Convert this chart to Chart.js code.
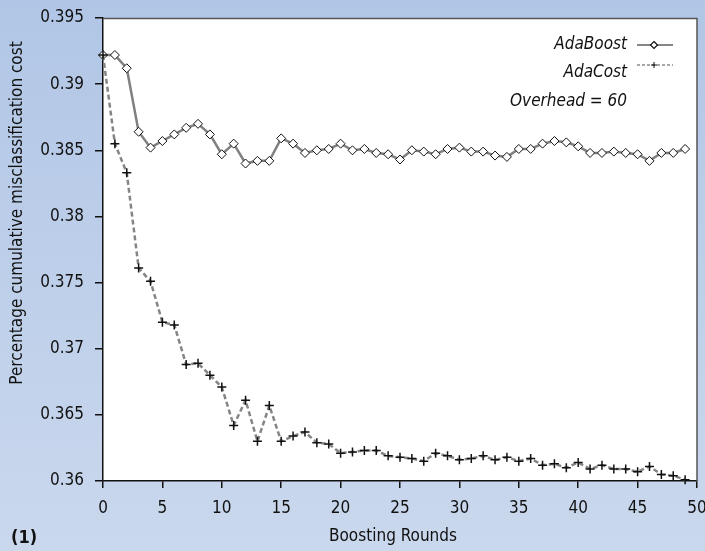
<!DOCTYPE html>
<html>
<head>
<meta charset="utf-8">
<script src="https://cdn.jsdelivr.net/npm/chart.js@4/dist/chart.umd.min.js"></script>
<style>
  html, body { margin: 0; padding: 0; }
  body { width: 705px; height: 551px; overflow: hidden; }
  #wrap { width: 705px; height: 551px; position: relative; }
</style>
</head>
<body>
<div id="wrap"><canvas id="costChart" width="705" height="551"></canvas></div>
<script>
// boosting rounds 0..49
const rounds = [0, 1, 2, 3, 4, 5, 6, 7, 8, 9, 10, 11, 12, 13, 14, 15, 16, 17, 18, 19,
    20, 21, 22, 23, 24, 25, 26, 27, 28, 29, 30, 31, 32, 33, 34, 35, 36, 37, 38, 39,
    40, 41, 42, 43, 44, 45, 46, 47, 48, 49];

const adaBoost = [0.3922, 0.3922, 0.3912, 0.3864, 0.3852, 0.3857, 0.3862, 0.3867, 0.3870, 0.3862,
    0.3847, 0.3855, 0.3840, 0.3842, 0.3842, 0.3859, 0.3855, 0.3848, 0.3850, 0.3851,
    0.3855, 0.3850, 0.3851, 0.3848, 0.3847, 0.3843, 0.3850, 0.3849, 0.3847, 0.3851,
    0.3852, 0.3849, 0.3849, 0.3846, 0.3845, 0.3851, 0.3851, 0.3855, 0.3857, 0.3856,
    0.3853, 0.3848, 0.3848, 0.3849, 0.3848, 0.3847, 0.3842, 0.3848, 0.3848, 0.3851];

const adaCost = [0.3922, 0.3855, 0.3833, 0.3761, 0.3751, 0.3720, 0.3718, 0.3688, 0.3689, 0.3680,
    0.3671, 0.3642, 0.3661, 0.3630, 0.3657, 0.3630, 0.3634, 0.3637, 0.3629, 0.3628,
    0.3621, 0.3622, 0.3623, 0.3623, 0.3619, 0.3618, 0.3617, 0.3615, 0.3621, 0.3619,
    0.3616, 0.3617, 0.3619, 0.3616, 0.3618, 0.3615, 0.3617, 0.3612, 0.3613, 0.3610,
    0.3614, 0.3609, 0.3612, 0.3609, 0.3609, 0.3607, 0.3611, 0.3605, 0.3604, 0.3601];

const xTicks = [0, 5, 10, 15, 20, 25, 30, 35, 40, 45, 50];
const yTicks = [0.36, 0.365, 0.37, 0.375, 0.38, 0.385, 0.39, 0.395];

const FONT = "'Liberation Sans Narrow', 'Arial Narrow', 'DejaVu Sans Condensed', sans-serif";

function toPoints(values) {
    return rounds.map((r, i) => ({ x: r, y: values[i] }));
}

// -----------------------------
// Plugins: background, frame, legend text, axis titles, panel label
// -----------------------------
const backdropPlugin = {
    id: "backdrop",
    beforeDraw(chart) {
        const ctx = chart.ctx;
        const g = ctx.createLinearGradient(0, 0, 0, chart.height);
        g.addColorStop(0, "#b1c6e6");
        g.addColorStop(1, "#cad8ed");
        ctx.save();
        ctx.fillStyle = g;
        ctx.fillRect(0, 0, chart.width, chart.height);
        const a = chart.chartArea;
        ctx.fillStyle = "#ffffff";
        ctx.fillRect(a.left, a.top, a.right - a.left, a.bottom - a.top);
        ctx.restore();
    },
    afterDraw(chart) {
        const ctx = chart.ctx;
        const a = chart.chartArea;
        ctx.save();
        // frame: top and right edges
        ctx.strokeStyle = "#555";
        ctx.lineWidth = 1.5;
        ctx.beginPath();
        ctx.moveTo(a.left, a.top + 0.5);
        ctx.lineTo(a.right, a.top + 0.5);
        ctx.lineTo(a.right, a.bottom);
        ctx.stroke();

        // legend
        ctx.fillStyle = "#111";
        ctx.font = "italic 17px " + FONT;
        ctx.textAlign = "right";
        ctx.textBaseline = "middle";
        ctx.fillText("AdaBoost", 627, 45);
        ctx.fillText("AdaCost", 627, 73);
        ctx.fillText("Overhead = 60", 627, 102);

        // AdaBoost sample
        ctx.strokeStyle = "#111";
        ctx.lineWidth = 1.2;
        ctx.beginPath();
        ctx.moveTo(637, 45);
        ctx.lineTo(673, 45);
        ctx.stroke();
        ctx.fillStyle = "#fff";
        ctx.beginPath();
        ctx.moveTo(654, 41.5);
        ctx.lineTo(657.5, 45);
        ctx.lineTo(654, 48.5);
        ctx.lineTo(650.5, 45);
        ctx.closePath();
        ctx.fill();
        ctx.stroke();

        // AdaCost sample
        ctx.strokeStyle = "#8a8a8a";
        ctx.lineWidth = 1.5;
        ctx.setLineDash([3, 2]);
        ctx.beginPath();
        ctx.moveTo(637, 65);
        ctx.lineTo(673, 65);
        ctx.stroke();
        ctx.setLineDash([]);
        ctx.strokeStyle = "#111";
        ctx.lineWidth = 1;
        ctx.beginPath();
        ctx.moveTo(651, 65);
        ctx.lineTo(657, 65);
        ctx.moveTo(654, 62);
        ctx.lineTo(654, 68);
        ctx.stroke();

        // axis titles
        ctx.fillStyle = "#111";
        ctx.font = "17px " + FONT;
        ctx.textAlign = "center";
        ctx.fillText("Boosting Rounds", 393, 537);
        ctx.save();
        ctx.translate(18, 213);
        ctx.rotate(-Math.PI / 2);
        ctx.fillText("Percentage cumulative misclassification cost", 0, 0);
        ctx.restore();

        // panel label
        ctx.font = "bold 18px 'DejaVu Sans Condensed', " + FONT;
        ctx.textAlign = "left";
        ctx.fillText("(1)", 11, 538);
        ctx.restore();
    },
};

// -----------------------------
// Chart
// -----------------------------
const canvas = document.getElementById("costChart");
new Chart(canvas, {
    type: "line",
    data: {
        datasets: [
            {
                label: "AdaCost",
                data: toPoints(adaCost),
                borderColor: "#858585",
                borderWidth: 2.5,
                borderDash: [5, 3],
                fill: false,
                tension: 0,
                pointStyle: "cross",
                pointRadius: 4.5,
                pointBorderColor: "#111",
                pointBorderWidth: 1.5,
                clip: false,
            },
            {
                label: "AdaBoost",
                data: toPoints(adaBoost),
                borderColor: "#808080",
                borderWidth: 2.5,
                fill: false,
                tension: 0,
                pointStyle: "rectRot",
                pointRadius: 4.5,
                pointBackgroundColor: "#fff",
                pointBorderColor: "#111",
                pointBorderWidth: 1,
                clip: false,
            },
        ],
    },
    options: {
        responsive: false,
        animation: false,
        events: [],
        layout: { padding: { top: 18, right: 8, left: 0, bottom: 0 } },
        plugins: {
            legend: { display: false },
            tooltip: { enabled: false },
            title: { display: false },
        },
        scales: {
            x: {
                type: "linear",
                min: 0,
                max: 50,
                afterBuildTicks: (scale) => {
                    scale.ticks = xTicks.map((v) => ({ value: v }));
                },
                afterFit: (scale) => {
                    scale.height = 70;
                    scale.paddingLeft = 0;
                    scale.paddingRight = 0;
                },
                border: { display: true, color: "#111", width: 1.5 },
                grid: {
                    drawOnChartArea: false,
                    drawTicks: true,
                    tickLength: 7,
                    color: "#111",
                    lineWidth: 1.5,
                },
                ticks: {
                    color: "#111",
                    padding: 10,
                    maxRotation: 0,
                    autoSkip: false,
                    font: { size: 17, family: FONT },
                },
                title: { display: false },
            },
            y: {
                min: 0.36,
                max: 0.395,
                afterBuildTicks: (scale) => {
                    scale.ticks = yTicks.map((v) => ({ value: v }));
                },
                afterFit: (scale) => {
                    scale.width = 103;
                    scale.paddingTop = 0;
                    scale.paddingBottom = 0;
                },
                border: { display: true, color: "#111", width: 1.5 },
                grid: {
                    drawOnChartArea: false,
                    drawTicks: true,
                    tickLength: 8,
                    color: "#111",
                    lineWidth: 1.5,
                },
                ticks: {
                    color: "#111",
                    padding: 11,
                    autoSkip: false,
                    font: { size: 17, family: FONT },
                    callback: function (value) {
                        return Number(value.toFixed(3)).toString();
                    },
                },
                title: { display: false },
            },
        },
    },
    plugins: [backdropPlugin],
});
</script>
</body>
</html>
